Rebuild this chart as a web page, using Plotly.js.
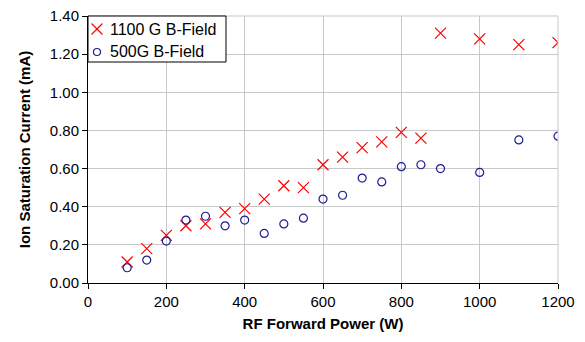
<!DOCTYPE html>
<html><head><meta charset="utf-8">
<script src="https://cdn.plot.ly/plotly-3.0.1.min.js"></script>
<style>html,body{margin:0;padding:0;background:#fff}#c{width:585px;height:342px}</style>
</head><body><div id="c"></div>
<script>
const power1100 = [100,150,200,250,300,350,400,450,500,550,600,650,700,750,800,850,900,1000,1100,1200];
const current1100 = [0.11,0.18,0.25,0.30,0.31,0.37,0.39,0.44,0.51,0.50,0.62,0.66,0.71,0.74,0.79,0.76,1.31,1.28,1.25,1.26];
const power500 = [100,150,200,250,300,350,400,450,500,550,600,650,700,750,800,850,900,1000,1100,1200];
const current500 = [0.08,0.12,0.22,0.33,0.35,0.30,0.33,0.26,0.31,0.34,0.44,0.46,0.55,0.53,0.61,0.62,0.60,0.58,0.75,0.77];
const seriesNames = ['1100 G B-Field','500G B-Field'];
const xTitle = 'RF Forward Power (W)';
const yTitle = 'Ion Saturation Current (mA)';

const RED = '#ff0000', BLUE = '#1c1c96';
const traces = [
  {x: power1100, y: current1100, name: seriesNames[0], mode: 'markers', type: 'scatter',
   marker: {symbol: 'x-thin-open', size: 11, color: RED, line: {color: RED, width: 1.2}}},
  {x: power500, y: current500, name: seriesNames[1], mode: 'markers', type: 'scatter',
   marker: {symbol: 'circle-open', size: 8, color: BLUE, line: {color: BLUE, width: 1.2}}}
];

// custom legend (box, symbols, labels) in paper coordinates
const legX0 = 0, legX1 = 0.2936, legY0 = 0.8277, legY1 = 1;
const symX = 0.0191, row1 = 0.9513, row2 = 0.8652, txtX = 0.0426;
const shapes = [
  {type: 'line', xref: 'paper', yref: 'paper', x0: 0, x1: 1, y0: 1, y1: 1, line: {color: '#c8c8c8', width: 1}},
  {type: 'line', xref: 'paper', yref: 'paper', x0: 1, x1: 1, y0: 0, y1: 1, line: {color: '#c8c8c8', width: 1}},
  {type: 'rect', xref: 'paper', yref: 'paper', x0: legX0, x1: legX1, y0: legY0, y1: legY1, layer: 'above',
   fillcolor: '#fff', line: {color: '#000', width: 1}},
  {type: 'line', xref: 'paper', yref: 'paper', xsizemode: 'pixel', ysizemode: 'pixel', xanchor: symX, yanchor: row1,
   x0: -5.5, x1: 5.5, y0: -5.5, y1: 5.5, layer: 'above', line: {color: RED, width: 1.2}},
  {type: 'line', xref: 'paper', yref: 'paper', xsizemode: 'pixel', ysizemode: 'pixel', xanchor: symX, yanchor: row1,
   x0: -5.5, x1: 5.5, y0: 5.5, y1: -5.5, layer: 'above', line: {color: RED, width: 1.2}},
  {type: 'circle', xref: 'paper', yref: 'paper', xsizemode: 'pixel', ysizemode: 'pixel', xanchor: symX, yanchor: row2,
   x0: -3.5, x1: 3.5, y0: -3.5, y1: 3.5, layer: 'above', line: {color: BLUE, width: 1.2}}
];
const annotations = [
  {xref: 'paper', yref: 'paper', x: txtX, y: row1, xanchor: 'left', yanchor: 'middle', showarrow: false,
   text: seriesNames[0], font: {size: 16, color: '#000'}},
  {xref: 'paper', yref: 'paper', x: txtX, y: row2, xanchor: 'left', yanchor: 'middle', showarrow: false,
   text: seriesNames[1], font: {size: 16, color: '#000'}}
];

const layout = {
  width: 585, height: 342,
  margin: {l: 88, r: 27, t: 16, b: 59},
  paper_bgcolor: '#fff', plot_bgcolor: '#fff',
  font: {family: 'Liberation Sans, Arial, sans-serif', size: 15, color: '#000'},
  showlegend: false,
  shapes: shapes, annotations: annotations,
  xaxis: {range: [0, 1200], dtick: 200, tick0: 0, showgrid: true, gridcolor: '#c8c8c8', gridwidth: 1,
          zeroline: false, showline: true, linecolor: '#000', linewidth: 1, ticks: 'outside', ticklen: 5, tickcolor: '#000',
          tickfont: {size: 15}, title: {text: xTitle, font: {size: 15, weight: 'bold'}, standoff: 9}},
  yaxis: {range: [0, 1.4], dtick: 0.2, tick0: 0, tickformat: '.2f', showgrid: true, gridcolor: '#c8c8c8', gridwidth: 1,
          zeroline: false, showline: true, linecolor: '#000', linewidth: 1, ticks: 'outside', ticklen: 5, tickcolor: '#000',
          tickfont: {size: 15}, title: {text: yTitle, font: {size: 15, weight: 'bold'}, standoff: 15}}
};
Plotly.newPlot('c', traces, layout, {displayModeBar: false, staticPlot: true});
</script></body></html>
